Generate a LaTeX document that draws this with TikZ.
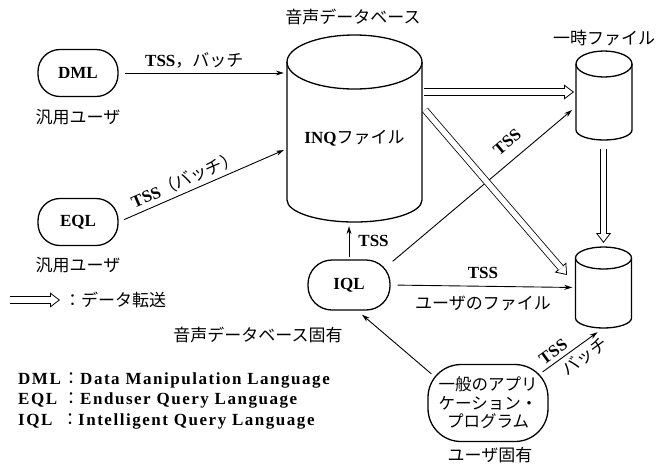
\documentclass[tikz,border=0pt]{standalone}
\usepackage{fontspec}
\setmainfont{Liberation Serif}
\newfontfamily\jpf{Noto Sans CJK JP}
\newfontfamily\legf[LetterSpace=9]{Liberation Serif}
\usetikzlibrary{arrows.meta,calc}
\tikzset{
  box/.style={draw, line width=1.3pt, rounded corners=22pt, minimum width=80pt,
    minimum height=47pt, inner sep=0pt, font=\fontsize{17}{20}\selectfont\bfseries},
  jp/.style={font=\jpf\fontsize{17}{20}\selectfont, inner sep=0pt},
  lab/.style={font=\fontsize{17}{20}\selectfont\bfseries, inner sep=1pt},
  leg/.style={anchor=west, inner sep=0pt, font=\legf\bfseries\fontsize{17}{20}\selectfont},
  arr/.style={line width=0.9pt, -{Stealth[length=8pt,width=5pt]}},
  dbl/.style={double, double distance=5.5pt, line width=0.8pt},
  htip/.style={line width=0.8pt, -{Triangle[open,length=10pt,width=15pt]}},
  cyl/.style={line width=1.3pt},
}
\begin{document}
\begin{tikzpicture}[x=1pt,y=-1pt]
\useasboundingbox (0,0) rectangle (660,467);

% big cylinder
\draw[cyl] (354.5,62) ellipse[x radius=67.5, y radius=27];
\draw[cyl] (287,62) -- (287,200) arc[start angle=180, end angle=0, x radius=67.5, y radius=22] -- (422,62);
\node[inner sep=0pt, minimum width=135pt, minimum height=188pt] (db) at (354.5,129) {};
\node[inner sep=0pt] (inq) at (354.5,138) {\fontsize{17}{20}\selectfont\bfseries INQ\jpf\mdseries ファイル};
\node[jp] (dbt) at (353,17) {音声データベース};

% temp file cylinder
\draw[cyl] (604,64) ellipse[x radius=28, y radius=13];
\draw[cyl] (576,64) -- (576,130) arc[start angle=180, end angle=0, x radius=28, y radius=10] -- (632,64);
\node[inner sep=0pt, minimum width=56pt, minimum height=89pt] (tmp) at (604,95.5) {};
\node[jp] (tmpt) at (604,38) {一時ファイル};

% user file cylinder
\draw[cyl] (603.5,258) ellipse[x radius=28, y radius=11];
\draw[cyl] (575.5,258) -- (575.5,318) arc[start angle=180, end angle=0, x radius=28, y radius=10] -- (631.5,258);
\node[inner sep=0pt, minimum width=56pt, minimum height=81pt] (usr) at (603.5,287.5) {};

% language nodes
\node[box] (dml) at (78,73) {DML};
\node[jp] (dmlu) at (78,117) {汎用ユーザ};
\node[box] (eql) at (78,222) {EQL};
\node[jp] (eqlu) at (78,265) {汎用ユーザ};
\node[box, minimum width=82pt, minimum height=50pt, rounded corners=24pt] (iql) at (349,285) {IQL};
\node[jp] (iqlu) at (258,335) {音声データベース固有};
\node[draw, line width=1.3pt, rounded corners=33pt, minimum width=120pt, minimum height=77pt,
  inner sep=0pt, align=center, font=\jpf\fontsize{16.5}{18.5}\selectfont] (app) at (488,403)
  {一般のアプリ\\ケーション・\\プログラム};
\node[jp] (appu) at (490,455) {ユーザ固有};

% single arrows
\draw[arr, shorten <=6pt, shorten >=3pt] (dml.east) -- node[lab, above=3pt, pos=0.45] {TSS\jpf\mdseries，バッチ} (dml.east -| db.west);
\coordinate (dbeq) at (284,150);
\draw[arr, shorten <=6pt] (eql.east) -- node[lab, sloped, above=3pt, pos=0.43] {TSS\jpf\mdseries（バッチ）} (dbeq);
\draw[arr, shorten <=2pt, shorten >=3pt] (iql.north) -- node[lab, right=8pt] {TSS} (iql.north |- db.south);
\coordinate (tmpin) at (572,110);
\draw[arr] ($(iql.north east)+(2,2)$) -- node[lab, sloped, above=10pt, pos=0.7] {TSS} (tmpin);
\draw[arr, shorten <=7pt, shorten >=3pt] (iql.east) -- node[lab, above=6pt] {TSS} node[jp, below=9pt] {ユーザのファイル} (usr.west);
\draw[arr] ($(app.north west)+(4,10)$) -- ($(iql.south)+(13,4)$);
\draw[arr] ($(app.north east)+(-6,8)$) -- node[lab, sloped, above=3pt, pos=0.3] {TSS} node[jp, sloped, below=4pt, pos=0.64] {バッチ} ($(usr.south)+(-6,4)$);

% double (data transfer) arrows
\coordinate (d1s) at (424,92);  \coordinate (d1e) at (574,92);
\coordinate (d2s) at (425,110); \coordinate (d2e) at (567,275);
\coordinate (d3s) at (603.5,149); \coordinate (d3e) at (603.5,243);
\coordinate (d4s) at (10,300);  \coordinate (d4e) at (60,300);
\foreach \s/\e in {d1s/d1e, d2s/d2e, d3s/d3e, d4s/d4e}{
  \draw[htip] (\s) -- (\e);
  \draw[dbl] (\s) -- ($(\e)!9pt!(\s)$);
}
\node[jp, anchor=west] (legt) at (64,300) {：データ転送};

% legend
\node[leg] (l1) at (18,380) {\makebox[44pt][l]{DML}\makebox[18pt][c]{\jpf\mdseries ：}Data Manipulation Language};
\node[leg] (l2) at (18,400) {\makebox[44pt][l]{EQL}\makebox[18pt][c]{\jpf\mdseries ：}Enduser Query Language};
\node[leg] (l3) at (18,421) {\makebox[44pt][l]{IQL}\makebox[16pt][c]{\jpf\mdseries ：}Intelligent Query Language};
\end{tikzpicture}
\end{document}
